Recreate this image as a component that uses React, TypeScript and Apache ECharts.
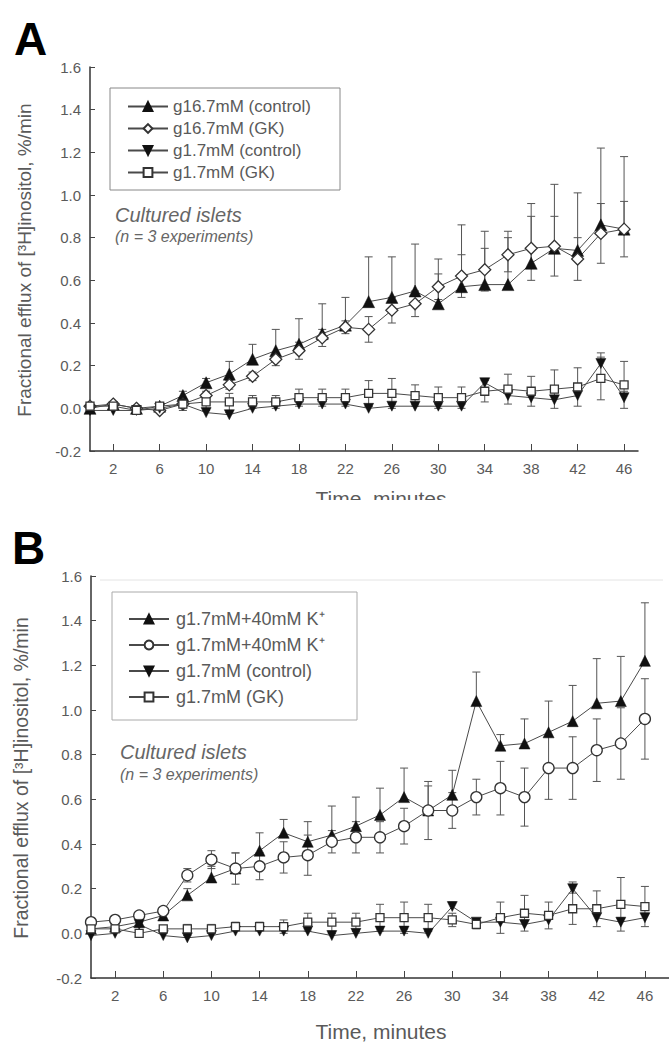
import React, { useEffect, useRef } from "react";
import * as echarts from "echarts";

const TIMES = [0, 2, 4, 6, 8, 10, 12, 14, 16, 18, 20, 22, 24, 26, 28, 30, 32, 34, 36, 38, 40, 42, 44, 46];
const X_TICKS = [2, 6, 10, 14, 18, 22, 26, 30, 34, 38, 42, 46];

// Panel A
const A_NAMES = ["g16.7mM (control)", "g16.7mM (GK)", "g1.7mM (control)", "g1.7mM (GK)"];
const A_CTRL16 = [0.0, 0.02, 0.0, 0.01, 0.06, 0.12, 0.16, 0.23, 0.27, 0.3, 0.35, 0.39, 0.5, 0.52, 0.55, 0.49, 0.57, 0.58, 0.58, 0.68, 0.75, 0.74, 0.86, 0.84];
const A_CTRL16_ERR = [0, 0.01, 0, 0.01, 0.02, 0.02, 0.06, 0.07, 0.1, 0.12, 0.14, 0.13, 0.21, 0.19, 0.22, 0.21, 0.29, 0.25, 0.25, 0.28, 0.3, 0.27, 0.36, 0.34];
const A_GK16 = [0.01, 0.02, 0.0, -0.01, 0.02, 0.06, 0.11, 0.15, 0.23, 0.27, 0.33, 0.38, 0.37, 0.46, 0.49, 0.57, 0.62, 0.65, 0.72, 0.75, 0.76, 0.7, 0.82, 0.84];
const A_GK16_ERR = [0, 0.01, 0.01, 0.01, 0.01, 0.02, 0.02, 0.02, 0.03, 0.04, 0.04, 0.03, 0.06, 0.06, 0.06, 0.06, 0.1, 0.1, 0.08, 0.15, 0.14, 0.1, 0.14, 0.13];
const A_CTRL17 = [-0.01, -0.01, -0.01, 0.0, 0.02, -0.02, -0.03, 0.0, 0.01, 0.02, 0.02, 0.02, 0.0, 0.01, 0.01, 0.01, 0.01, 0.12, 0.06, 0.05, 0.04, 0.06, 0.21, 0.05];
const A_CTRL17_ERR = [0, 0, 0, 0, 0.01, 0.01, 0.01, 0.01, 0.01, 0.01, 0.01, 0.01, 0.01, 0.01, 0.01, 0.01, 0.01, 0.02, 0.03, 0.02, 0.02, 0.03, 0.05, 0.03];
const A_GK17 = [0.01, 0.01, -0.01, 0.01, 0.02, 0.03, 0.03, 0.03, 0.03, 0.05, 0.05, 0.05, 0.07, 0.07, 0.06, 0.05, 0.05, 0.08, 0.09, 0.08, 0.09, 0.1, 0.14, 0.11];
const A_GK17_ERR = [0, 0, 0, 0.01, 0.03, 0.03, 0.04, 0.03, 0.03, 0.04, 0.04, 0.04, 0.06, 0.07, 0.05, 0.05, 0.05, 0.05, 0.07, 0.07, 0.09, 0.09, 0.1, 0.11];

// Panel B
const B_NAMES = ["g1.7mM+40mM K⁺", "g1.7mM+40mM K⁺", "g1.7mM (control)", "g1.7mM (GK)"];
const B_K_CTRL = [0.02, 0.03, 0.05, 0.08, 0.17, 0.25, 0.29, 0.37, 0.45, 0.41, 0.44, 0.48, 0.53, 0.61, 0.55, 0.62, 1.04, 0.84, 0.85, 0.9, 0.95, 1.03, 1.04, 1.22];
const B_K_CTRL_ERR = [0, 0, 0.01, 0.02, 0.03, 0.05, 0.07, 0.08, 0.06, 0.09, 0.13, 0.13, 0.12, 0.13, 0.11, 0.11, 0.13, 0.05, 0.11, 0.14, 0.16, 0.2, 0.2, 0.26];
const B_K_GK = [0.05, 0.06, 0.08, 0.1, 0.26, 0.33, 0.29, 0.3, 0.34, 0.35, 0.41, 0.43, 0.43, 0.48, 0.55, 0.55, 0.61, 0.65, 0.61, 0.74, 0.74, 0.82, 0.85, 0.96];
const B_K_GK_ERR = [0, 0, 0.01, 0.01, 0.03, 0.04, 0.07, 0.06, 0.07, 0.09, 0.05, 0.07, 0.07, 0.08, 0.13, 0.08, 0.08, 0.12, 0.13, 0.14, 0.14, 0.14, 0.16, 0.18];
const B_CTRL = [-0.01, 0.0, 0.04, -0.01, -0.02, -0.01, 0.01, 0.01, 0.01, 0.01, -0.01, 0.0, 0.01, 0.01, 0.0, 0.12, 0.05, 0.05, 0.04, 0.06, 0.2, 0.07, 0.05, 0.07];
const B_CTRL_ERR = [0, 0, 0.01, 0.01, 0.01, 0.01, 0.01, 0.01, 0.01, 0.01, 0.01, 0.01, 0.01, 0.01, 0.01, 0.02, 0.01, 0.02, 0.02, 0.02, 0.03, 0.02, 0.02, 0.02];
const B_GK = [0.02, 0.02, 0.0, 0.02, 0.02, 0.02, 0.03, 0.03, 0.03, 0.05, 0.05, 0.05, 0.07, 0.07, 0.07, 0.06, 0.04, 0.07, 0.09, 0.08, 0.11, 0.11, 0.13, 0.12];
const B_GK_ERR = [0, 0, 0, 0.01, 0.02, 0.02, 0.02, 0.02, 0.03, 0.04, 0.04, 0.04, 0.06, 0.07, 0.06, 0.03, 0.02, 0.07, 0.08, 0.06, 0.07, 0.08, 0.12, 0.09];

const Y_TITLE = "Fractional efflux of [³H]inositol, %/min";
const X_TITLE = "Time, minutes";
const NOTE1 = "Cultured islets";
const NOTE2 = "(n = 3 experiments)";

const FONT = "'Liberation Sans', Arial, sans-serif";
const LINE = "#4a4a4a";
const TEXT = "#5a5a5a";

type Style = { symbol: string; size: number; filled: boolean; rotate?: number; dir: "up" | "both" };
const STYLES: Style[] = [
  { symbol: "triangle", size: 12, filled: true, dir: "up" },
  { symbol: "diamond", size: 12, filled: false, dir: "both" },
  { symbol: "triangle", size: 10, filled: true, rotate: 180, dir: "up" },
  { symbol: "rect", size: 8, filled: false, dir: "both" },
];
const STYLES_B: Style[] = [
  { symbol: "triangle", size: 11, filled: true, dir: "up" },
  { symbol: "circle", size: 11, filled: false, dir: "both" },
  { symbol: "triangle", size: 10, filled: true, rotate: 180, dir: "up" },
  { symbol: "rect", size: 8, filled: false, dir: "both" },
];

function lineSeries(id: string, vals: number[], st: Style, gi: number) {
  return {
    type: "line",
    name: id,
    xAxisIndex: gi,
    yAxisIndex: gi,
    data: TIMES.map((t, i) => [t, vals[i]]),
    symbol: st.symbol,
    symbolSize: st.size,
    symbolRotate: st.rotate || 0,
    showAllSymbol: true,
    lineStyle: { color: LINE, width: 1 },
    itemStyle: st.filled
      ? { color: "#111", borderColor: "#111", borderWidth: 0.5 }
      : { color: "#fff", borderColor: "#333", borderWidth: 1.3 },
    z: 3,
  };
}

function errSeries(vals: number[], errs: number[], dir: string, gi: number) {
  return {
    type: "custom",
    xAxisIndex: gi,
    yAxisIndex: gi,
    silent: true,
    z: 2,
    data: TIMES.map((t, i) => [t, vals[i], errs[i]]),
    encode: { x: 0, y: 1 },
    renderItem: (params: any, api: any) => {
      const x = api.value(0);
      const y = api.value(1);
      const e = api.value(2);
      if (!e) return null;
      const c = api.coord([x, y]);
      const hi = dir !== "down" ? api.coord([x, y + e]) : c;
      const lo = dir !== "up" ? api.coord([x, y - e]) : c;
      const w = 4;
      const style = { stroke: "#555", lineWidth: 1 };
      const children: any[] = [
        { type: "line", shape: { x1: c[0], y1: hi[1], x2: c[0], y2: lo[1] }, style },
      ];
      if (dir !== "down") children.push({ type: "line", shape: { x1: c[0] - w, y1: hi[1], x2: c[0] + w, y2: hi[1] }, style });
      if (dir !== "up") children.push({ type: "line", shape: { x1: c[0] - w, y1: lo[1], x2: c[0] + w, y2: lo[1] }, style });
      return { type: "group", children };
    },
  };
}

function xAxis(gi: number, max: number) {
  return {
    type: "value",
    gridIndex: gi,
    min: 0,
    max,
    axisLine: { onZero: false, lineStyle: { color: "#333", width: 1.5 } },
    axisTick: { inside: true, length: 7, customValues: X_TICKS, lineStyle: { color: "#444" } },
    axisLabel: { customValues: X_TICKS, fontSize: 15, color: TEXT, fontFamily: FONT, margin: 10 },
    splitLine: { show: false },
  };
}
function yAxis(gi: number) {
  return {
    type: "value",
    gridIndex: gi,
    min: -0.2,
    max: 1.6,
    interval: 0.2,
    axisLine: { show: true, onZero: false, lineStyle: { color: "#333", width: 1.5 } },
    axisTick: { show: true, inside: true, length: 5, lineStyle: { color: "#444" } },
    axisLabel: { fontSize: 15, color: TEXT, fontFamily: FONT, margin: 9, formatter: (v: number) => v.toFixed(1) },
    splitLine: { show: false },
  };
}

export default function App() {
  const ref = useRef<HTMLDivElement>(null);
  useEffect(() => {
    if (!ref.current) return;
    const chart = echarts.init(ref.current, null, { renderer: "svg" });
    const aIds = A_NAMES.map((_, i) => "A" + i);
    const bIds = B_NAMES.map((_, i) => "B" + i);
    const nameMap: Record<string, string> = {};
    aIds.forEach((id, i) => (nameMap[id] = A_NAMES[i]));
    bIds.forEach((id, i) => (nameMap[id] = B_NAMES[i]));

    const aVals = [A_CTRL16, A_GK16, A_CTRL17, A_GK17];
    const aErrs = [A_CTRL16_ERR, A_GK16_ERR, A_CTRL17_ERR, A_GK17_ERR];
    const bVals = [B_K_CTRL, B_K_GK, B_CTRL, B_GK];
    const bErrs = [B_K_CTRL_ERR, B_K_GK_ERR, B_CTRL_ERR, B_GK_ERR];

    const series: any[] = [];
    aVals.forEach((v, i) => series.push(errSeries(v, aErrs[i], STYLES[i].dir, 0)));
    bVals.forEach((v, i) => series.push(errSeries(v, bErrs[i], STYLES_B[i].dir, 1)));
    aVals.forEach((v, i) => series.push(lineSeries(aIds[i], v, STYLES[i], 0)));
    bVals.forEach((v, i) => series.push(lineSeries(bIds[i], v, STYLES_B[i], 1)));

    const legendCommon = {
      orient: "vertical",
      selectedMode: false,
      itemWidth: 40,
      itemHeight: 11,
      formatter: (n: string) => nameMap[n] || n,
    };

    const note = (x: number, y: number, t: string, size: number) => ({
      type: "text",
      x,
      y,
      style: { text: t, fontSize: size, fontStyle: "italic", fontFamily: FONT, fill: "#666", textVerticalAlign: "middle" },
    });

    chart.setOption({
      animation: false,
      backgroundColor: "#fff",
      grid: [
        { left: 90, top: 67, width: 548, height: 384, containLabel: false, outerBoundsMode: "none" },
        { left: 91, top: 576, width: 578, height: 402, containLabel: false, outerBoundsMode: "none" },
      ],
      xAxis: [xAxis(0, 47.2), xAxis(1, 48)],
      yAxis: [yAxis(0), yAxis(1)],
      legend: [
        {
          ...legendCommon, left: 122, top: 93, itemGap: 5, data: aIds,
          textStyle: { fontSize: 17, color: TEXT, fontFamily: FONT, padding: [0, 0, 0, 0] },
        },
        {
          ...legendCommon, left: 123, top: 605, itemGap: 8, data: bIds,
          textStyle: { fontSize: 18, color: TEXT, fontFamily: FONT, padding: [0, 0, 0, 2] },
        },
      ],
      series,
      graphic: [
        { type: "text", x: 14, y: 16, style: { text: "A", fontSize: 46, fontWeight: "bold", fontFamily: FONT, fill: "#000" } },
        { type: "text", x: 12, y: 525, style: { text: "B", fontSize: 46, fontWeight: "bold", fontFamily: FONT, fill: "#000" } },
        { type: "rect", shape: { x: 110, y: 88, width: 230, height: 102 }, style: { fill: "none", stroke: "#888", lineWidth: 1 } },
        { type: "rect", shape: { x: 112, y: 592, width: 245, height: 128 }, style: { fill: "none", stroke: "#aaa", lineWidth: 1 } },
        { type: "line", shape: { x1: 100, y1: 580, x2: 663, y2: 580 }, style: { stroke: "#e4e4e4", lineWidth: 1 } },
        note(115, 215, NOTE1, 20),
        note(115, 236, NOTE2, 16),
        note(120, 752, NOTE1, 20),
        note(120, 774, NOTE2, 16),
        { type: "text", x: 24, y: 260, rotation: Math.PI / 2, style: { text: Y_TITLE, fontSize: 19, fontFamily: FONT, fill: TEXT, textAlign: "center", textVerticalAlign: "middle" } },
        { type: "text", x: 21, y: 778, rotation: Math.PI / 2, style: { text: Y_TITLE, fontSize: 19.5, fontFamily: FONT, fill: TEXT, textAlign: "center", textVerticalAlign: "middle" } },
        { type: "text", x: 381, y: 498, style: { text: X_TITLE, fontSize: 21, fontFamily: FONT, fill: TEXT, textAlign: "center", textVerticalAlign: "middle" } },
        { type: "rect", z: 100, shape: { x: 0, y: 500, width: 669, height: 22 }, style: { fill: "#fff" } },
        { type: "text", x: 381, y: 1031, style: { text: X_TITLE, fontSize: 21, fontFamily: FONT, fill: TEXT, textAlign: "center", textVerticalAlign: "middle" } },
      ],
    });
    return () => chart.dispose();
  }, []);
  return <div ref={ref} style={{ position: "absolute", left: 0, top: 0, width: 669, height: 1047, background: "#fff" }} />;
}
